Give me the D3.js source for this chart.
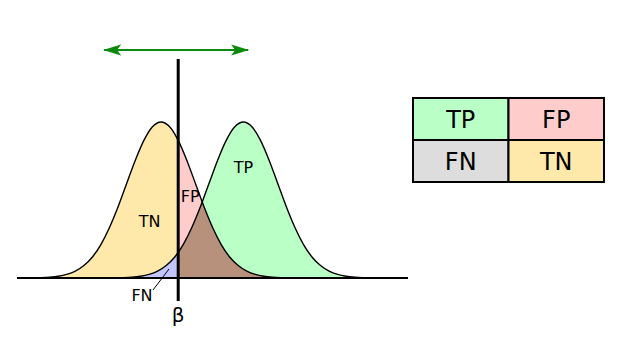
<!DOCTYPE html>
<html>
<head>
<meta charset="utf-8">
<script src="https://cdn.jsdelivr.net/npm/d3@7"></script>
<style>
  body { margin: 0; background: #fff; }
  svg { display: block; font-family: "DejaVu Sans", sans-serif; }
</style>
</head>
<body>
<div id="chart"></div>
<script>
// score grid and density (negatives left, positives right)
var negX = [-3.5, -3.25, -3, -2.75, -2.5, -2.25, -2, -1.75, -1.5, -1.25, -1, -0.75, -0.5, -0.25, 0,
            0.25, 0.5, 0.75, 1, 1.25, 1.5, 1.75, 2, 2.25, 2.5, 2.75, 3, 3.25, 3.5];
var negY = [0.002, 0.005, 0.011, 0.023, 0.044, 0.08, 0.135, 0.216, 0.325, 0.458, 0.607, 0.755, 0.882, 0.969, 1,
            0.969, 0.882, 0.755, 0.607, 0.458, 0.325, 0.216, 0.135, 0.08, 0.044, 0.023, 0.011, 0.005, 0.002];
var posX = [-1.1, -0.85, -0.6, -0.35, -0.1, 0.15, 0.4, 0.65, 0.9, 1.15, 1.4, 1.65, 1.9, 2.15, 2.4,
            2.65, 2.9, 3.15, 3.4, 3.65, 3.9, 4.15, 4.4, 4.65, 4.9, 5.15, 5.4, 5.65, 5.9];
var posY = [0.002, 0.005, 0.011, 0.023, 0.044, 0.08, 0.135, 0.216, 0.325, 0.458, 0.607, 0.755, 0.882, 0.969, 1,
            0.969, 0.882, 0.755, 0.607, 0.458, 0.325, 0.216, 0.135, 0.08, 0.044, 0.023, 0.011, 0.005, 0.002];
var beta = 0.5;            // threshold
var spread = [-1.66, 2.54]; // range of the green arrow

// region labels [text, score, density]
var regionLabels = [['TN', -0.33, 0.33], ['FP', 0.85, 0.49], ['TP', 2.4, 0.67]];

// confusion table
var tableRows = ['pos', 'neg'];
var tableCols = ['pred', 'not'];
var tableText = [['TP', 'FP'], ['FN', 'TN']];
var tableFill = [['#b9ffc6', '#ffcccc'], ['#dddddd', '#ffe9aa']];

var width = 637, height = 342;

var svg = d3.select('#chart').append('svg')
    .attr('width', width)
    .attr('height', height);

var x = d3.scaleLinear().domain([-4.2, 7.2]).range([17, 408]);
var y = d3.scaleLinear().domain([0, 1]).range([278, 122]);

var neg = negX.map(function(v, i) { return [v, negY[i]]; });
var pos = posX.map(function(v, i) { return [v, posY[i]]; });

var area = d3.area()
    .x(function(d) { return x(d[0]); })
    .y0(y(0))
    .y1(function(d) { return y(d[1]); })
    .curve(d3.curveMonotoneX);
var line = area.lineY1();

var defs = svg.append('defs');
defs.append('clipPath').attr('id', 'leftClip')
  .append('rect').attr('x', 0).attr('y', 0).attr('width', x(beta)).attr('height', height);
defs.append('clipPath').attr('id', 'rightClip')
  .append('rect').attr('x', x(beta)).attr('y', 0).attr('width', width - x(beta)).attr('height', height);
defs.append('clipPath').attr('id', 'posClip')
  .append('path').attr('d', area(pos));

defs.append('marker')
    .attr('id', 'arrow')
    .attr('viewBox', '0 -6 18 12')
    .attr('refX', 17).attr('refY', 0)
    .attr('markerWidth', 18).attr('markerHeight', 12)
    .attr('markerUnits', 'userSpaceOnUse')
    .attr('orient', 'auto-start-reverse')
  .append('path')
    .attr('d', 'M0,-5.5 L18,0 L0,5.5 L4,0 Z')
    .attr('fill', '#0b8a0b');

// fills
svg.append('path').attr('d', area(neg)).attr('fill', '#ffe9aa').attr('clip-path', 'url(#leftClip)');
svg.append('path').attr('d', area(neg)).attr('fill', '#ffcccc').attr('clip-path', 'url(#rightClip)');
svg.append('path').attr('d', area(pos)).attr('fill', '#b9ffc6').attr('clip-path', 'url(#rightClip)');
svg.append('g').attr('clip-path', 'url(#rightClip)')
  .append('g').attr('clip-path', 'url(#posClip)')
  .append('path').attr('d', area(neg)).attr('fill', '#b8917c');
svg.append('path').attr('d', area(pos)).attr('fill', '#c4c4ff').attr('clip-path', 'url(#leftClip)');

// outlines
svg.selectAll('.curve')
    .data([neg, pos])
    .enter()
    .append('path')
    .attr('class', 'curve')
    .attr('d', line)
    .attr('fill', 'none')
    .attr('stroke', '#000')
    .attr('stroke-width', 1.4);

// baseline
svg.append('line')
    .attr('x1', x.range()[0]).attr('x2', x.range()[1])
    .attr('y1', y(0)).attr('y2', y(0))
    .attr('stroke', '#000').attr('stroke-width', 2);

// threshold
svg.append('line')
    .attr('x1', x(beta)).attr('x2', x(beta))
    .attr('y1', 59).attr('y2', 301)
    .attr('stroke', '#000').attr('stroke-width', 3);
svg.append('text')
    .attr('x', x(beta)).attr('y', 322)
    .attr('text-anchor', 'middle')
    .attr('font-size', 20)
    .text('β');

// arrow
svg.append('line')
    .attr('x1', x(spread[0])).attr('x2', x(spread[1]))
    .attr('y1', 50).attr('y2', 50)
    .attr('stroke', '#0b8a0b').attr('stroke-width', 2)
    .attr('marker-start', 'url(#arrow)')
    .attr('marker-end', 'url(#arrow)');

// region labels
svg.selectAll('.rlabel')
    .data(regionLabels)
    .enter()
    .append('text')
    .attr('class', 'rlabel')
    .attr('x', function(d) { return x(d[1]); })
    .attr('y', function(d) { return y(d[2]); })
    .attr('text-anchor', 'middle')
    .attr('font-size', 16)
    .text(function(d) { return d[0]; });

// FN label with leader
svg.append('text')
    .attr('x', 142).attr('y', 301)
    .attr('text-anchor', 'middle')
    .attr('font-size', 16)
    .text('FN');
svg.append('line')
    .attr('x1', 153).attr('y1', 290)
    .attr('x2', 169).attr('y2', 269)
    .attr('stroke', '#000').attr('stroke-width', 1);

// table
var tx = d3.scaleBand().domain(tableCols).range([413, 604]);
var ty = d3.scaleBand().domain(tableRows).range([98, 182]);
var table = svg.append('g');
tableRows.forEach(function(r, i) {
  tableCols.forEach(function(c, j) {
    table.append('rect')
        .attr('x', tx(c)).attr('y', ty(r))
        .attr('width', tx.bandwidth()).attr('height', ty.bandwidth())
        .attr('fill', tableFill[i][j])
        .attr('stroke', '#000').attr('stroke-width', 2);
    table.append('text')
        .attr('x', tx(c) + tx.bandwidth() / 2)
        .attr('y', ty(r) + ty.bandwidth() / 2 + 9)
        .attr('text-anchor', 'middle')
        .attr('font-size', 24)
        .text(tableText[i][j]);
  });
});
</script>
</body>
</html>
